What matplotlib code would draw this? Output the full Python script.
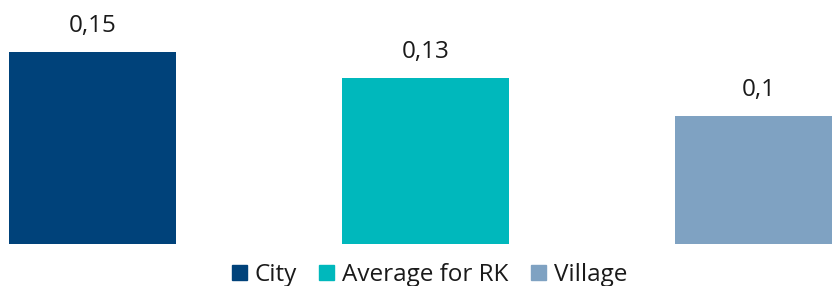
import matplotlib.pyplot as plt
from matplotlib.patches import Patch

plt.rcParams['font.family'] = ['Open Sans', 'DejaVu Sans']

categories = ['City', 'Average for RK', 'Village']
values = [0.15, 0.13, 0.1]
colors = ['#00427A', '#00B8BC', '#7FA2C2']

fig = plt.figure(figsize=(8.32, 2.86), dpi=100)
ax = fig.add_axes([0, 42 / 286, 1, 244 / 286])

x = list(range(len(categories)))
bars = ax.bar(x, values, width=0.5, color=colors)
for b, v in zip(bars, values):
    label = ('%g' % v).replace('.', ',')
    ax.annotate(label, (b.get_x() + b.get_width() / 2, v), xytext=(0, 14),
                textcoords='offset pixels', ha='center', va='bottom',
                fontsize=17.5, color='#1a1a1a')

ax.set_xlim(-0.278, 2.221)
ax.set_ylim(0, 0.1906)
ax.axis('off')

handles = [Patch(color=c) for c in colors]
fig.legend(handles, categories, loc='center', bbox_to_anchor=(0.516, 11 / 286),
           ncol=3, frameon=False, fontsize=17.5, handlelength=0.62, handleheight=0.62,
           handletextpad=0.3, columnspacing=0.95, labelcolor='#1a1a1a')

fig.savefig('out.png', dpi=100)
